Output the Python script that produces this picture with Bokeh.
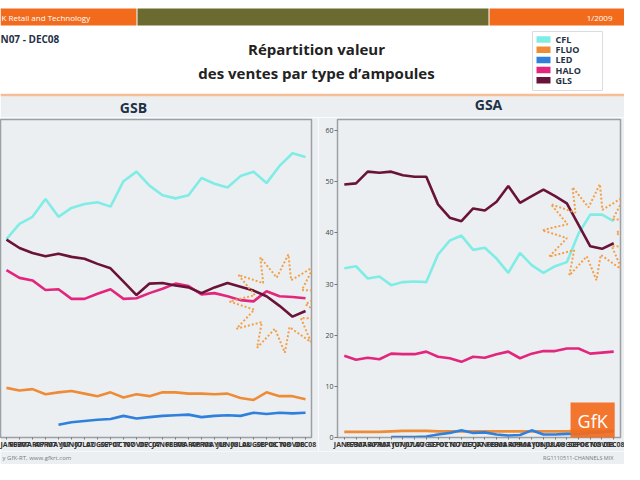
import numpy as np
from bokeh.plotting import figure
from bokeh.layouts import column, row
from bokeh.models import Range1d, FixedTicker, Label, ColumnDataSource
from bokeh.core.properties import value
from bokeh.embed import file_html
from bokeh.resources import INLINE

# ---------------- data ----------------
months = ["JAN07", "FEB07", "MAR07", "APR07", "MAY07", "JUN07", "JUL07", "AUG07",
          "SEP07", "OCT07", "NOV07", "DEC07", "JAN08", "FEB08", "MAR08", "APR08",
          "MAY08", "JUN08", "JUL08", "AUG08", "SEP08", "OCT08", "NOV08", "DEC08"]
series = ["CFL", "FLUO", "LED", "HALO", "GLS"]
colors = ["#7FEDE6", "#EE8B36", "#2F80DC", "#E2267E", "#6A1339"]

gsb_cfl = [31.2, 33.6, 34.7, 37.5, 34.7, 36.1, 36.7, 37.0, 36.3, 40.3, 41.8, 39.6,
           38.1, 37.6, 38.1, 40.8, 39.9, 39.3, 41.1, 41.8, 40.0, 42.7, 44.7, 44.1]
gsb_fluo = [7.8, 7.4, 7.6, 6.8, 7.1, 7.3, 6.9, 6.5, 7.1, 6.3, 6.8, 6.5,
            7.1, 7.1, 6.9, 6.9, 6.8, 6.9, 6.2, 5.9, 7.1, 6.5, 6.5, 6.0]
gsb_led = [None, None, None, None, 2.0, 2.4, 2.6, 2.8, 2.9, 3.4, 3.0, 3.2,
           3.4, 3.5, 3.6, 3.2, 3.4, 3.5, 3.4, 3.9, 3.7, 3.9, 3.8, 3.9]
gsb_halo = [26.3, 25.1, 24.7, 23.2, 23.3, 21.8, 21.8, 22.6, 23.3, 21.8, 21.9, 22.7,
            23.4, 24.2, 23.8, 22.5, 22.7, 22.2, 21.6, 21.4, 23.0, 22.2, 22.1, 21.9]
gsb_gls = [31.1, 29.8, 29.0, 28.5, 28.9, 28.4, 28.1, 27.3, 26.6, 24.5, 22.4, 24.2,
           24.3, 23.9, 23.6, 22.7, 23.6, 24.3, 23.7, 23.1, 22.2, 20.7, 19.0, 19.9]

gsa_cfl = [33.1, 33.5, 31.1, 31.5, 29.8, 30.4, 30.5, 30.4, 35.8, 38.5, 39.5, 36.7,
           37.1, 35.0, 32.2, 36.1, 33.7, 32.2, 33.5, 34.3, 39.9, 43.6, 43.6, 42.3]
gsa_fluo = [1.1, 1.1, 1.1, 1.1, 1.2, 1.3, 1.3, 1.3, 1.2, 1.2, 1.2, 1.2,
            1.2, 1.2, 1.2, 1.2, 1.2, 1.2, 1.2, 1.2, 1.3, 1.3, 1.3, 1.3]
gsa_led = [None, None, None, None, 0.1, 0.1, 0.1, 0.2, 0.6, 0.9, 1.4, 0.9,
           1.0, 0.6, 0.4, 0.5, 1.4, 0.6, 0.6, 0.7, 0.7, 0.9, 1.0, 1.3]
gsa_halo = [16.0, 15.2, 15.6, 15.3, 16.4, 16.3, 16.3, 16.8, 15.8, 15.5, 14.8, 15.8,
            15.6, 16.3, 16.8, 15.5, 16.4, 16.9, 16.9, 17.4, 17.4, 16.4, 16.6, 16.8]
gsa_gls = [49.5, 49.7, 52.0, 51.8, 52.0, 51.3, 51.0, 51.0, 45.6, 43.0, 42.3, 44.8,
           44.4, 46.1, 49.2, 45.9, 47.2, 48.5, 47.2, 45.8, 41.6, 37.4, 36.9, 38.0]

gsb_data = [gsb_cfl, gsb_fluo, gsb_led, gsb_halo, gsb_gls]
gsa_data = [gsa_cfl, gsa_fluo, gsa_led, gsa_halo, gsa_gls]

FONT = "Open Sans"
BG = "#ECEFF1"
DARK = "#1F3246"
STAR = "#F2A04A"
W = 624


def blank(width, height, xr, yr, bg):
    f = figure(width=width, height=height, x_range=Range1d(*xr), y_range=Range1d(*yr),
               output_backend="svg", toolbar_location=None, min_border=0,
               x_axis_location=None, y_axis_location=None)
    f.outline_line_color = None
    f.grid.visible = False
    f.background_fill_color = bg
    f.border_fill_color = bg
    return f


# ---------------- header ----------------
HH = 117
hdr = blank(W, HH, (0, W), (HH, 0), "white")
hdr.quad(left=[0, 137, 489], right=[136, 488, W], top=[8, 8, 8], bottom=[25, 25, 25],
         fill_color=["#F26B1D", "#6B6A30", "#F26B1D"], line_color=None)
hdr.quad(left=[0], right=[W], top=[95], bottom=[HH], fill_color=BG, line_color=None)
hdr.segment(x0=[0], x1=[W], y0=[94.5], y1=[94.5], line_color="#F5BE96", line_width=2.5)

hdr.text(x=[1], y=[17], text=["K Retail and Technology"], text_font=value(FONT),
         text_font_size="8px", text_color="white", text_baseline="middle")
hdr.text(x=[612], y=[17], text=["1/2009"], text_font=value(FONT),
         text_font_size="8px", text_color="white", text_baseline="middle", text_align="right")
hdr.text(x=[0], y=[38], text=["N07 - DEC08"], text_font=value(FONT), text_font_style="bold",
         text_font_size="10px", text_color=DARK, text_baseline="middle")
hdr.text(x=[316, 316], y=[48, 72],
         text=["Répartition valeur", "des ventes par type d\u2019ampoules"],
         text_font=value(FONT), text_font_style="bold", text_font_size="15px",
         text_color="#222222", text_baseline="middle", text_align="center")
hdr.text(x=[133, 488], y=[107, 104], text=["GSB", "GSA"], text_font=value(FONT),
         text_font_style="bold", text_font_size="14px", text_color=DARK,
         text_baseline="middle", text_align="center")

# legend box
hdr.quad(left=[532], right=[602], top=[31], bottom=[90], fill_color="white",
         line_color="#DADDE0", line_width=1)
leg_y = [39 + 10.2 * k for k in range(len(series))]
hdr.rect(x=[543] * len(series), y=leg_y, width=14, height=6.5,
         fill_color=colors, line_color=None)
hdr.text(x=[555] * len(series), y=leg_y, text=series, text_font=value(FONT),
         text_font_style="bold", text_font_size="9px", text_color=DARK,
         text_baseline="middle")


def star_xy(cx, cy, r_out, r_in, sx, sy, n=11, rot=0.25):
    k = np.arange(2 * n + 1)
    ang = k * np.pi / n + rot
    r = np.where(k % 2 == 0, r_out, r_in)
    return cx + r * np.cos(ang) / sx, cy + r * np.sin(ang) / sy


PH = 334
BOT = 12


def panel(width, xr, yr, left, right, top, show_y, data):
    p = figure(width=width, height=PH, x_range=Range1d(*xr), y_range=Range1d(*yr),
               output_backend="svg", toolbar_location=None,
               min_border_left=left, min_border_right=right, min_border_top=top,
               min_border_bottom=BOT, y_axis_location="left" if show_y else None)
    p.background_fill_color = BG
    p.border_fill_color = BG
    p.outline_line_color = "#9C9FA3"
    p.outline_line_width = 1.5
    p.grid.visible = False
    xs = list(range(len(months)))
    for name, vals, col in zip(series, data, colors):
        arr = np.array([np.nan if v is None else v for v in vals], dtype=float)
        src = ColumnDataSource(dict(x=xs, y=arr))
        p.line("x", "y", source=src, line_color=col, line_width=2.6, name=name)
    ax = p.xaxis[0]
    ax.ticker = FixedTicker(ticks=xs)
    ax.major_label_overrides = {i: m for i, m in enumerate(months)}
    ax.major_label_text_font = FONT
    ax.major_label_text_font_size = "7px"
    ax.major_label_text_font_style = "bold"
    ax.major_label_text_color = "#333333"
    ax.major_label_standoff = 0
    ax.major_tick_out = 2
    ax.major_tick_in = 0
    ax.major_tick_line_color = "#777777"
    ax.minor_tick_line_color = None
    ax.axis_line_color = "#9C9FA3"
    if show_y:
        ay = p.yaxis[0]
        ay.ticker = FixedTicker(ticks=[0, 10, 20, 30, 40, 50, 60])
        ay.major_label_text_font = FONT
        ay.major_label_text_font_size = "7px"
        ay.major_label_text_color = "#444444"
        ay.major_label_standoff = 1
        ay.major_tick_out = 3
        ay.major_tick_in = 0
        ay.major_tick_line_color = "#777777"
        ay.minor_tick_line_color = None
        ay.axis_line_color = None
    return p


# ---------------- GSB ----------------
GSB_W, GSB_TOP = 318, 2
gsb = panel(GSB_W, (-0.46, 23.46), (0, 50), 0, 7, GSB_TOP, False, gsb_data)
sxp = 311 / (gsb.x_range.end - gsb.x_range.start)
syp = (PH - GSB_TOP - BOT) / (gsb.y_range.end - gsb.y_range.start)
stx, sty = star_xy(21.0, 21.1, 50, 26, sxp, syp)
gsb.line(stx, sty, line_color=STAR, line_width=2, line_dash="2 2")

# ---------------- GSA ----------------
GSA_W, GSA_TOP = W - GSB_W, 1
gsa = panel(GSA_W, (-0.58, 23.58), (0, 62.2), 19, 4, GSA_TOP, True, gsa_data)
sxp2 = 283 / (gsa.x_range.end - gsa.x_range.start)
syp2 = (PH - GSA_TOP - BOT) / (gsa.y_range.end - gsa.y_range.start)
stx2, sty2 = star_xy(21.08, 40.2, 49, 25, sxp2, syp2)
gsa.line(stx2, sty2, line_color=STAR, line_width=2, line_dash="2 2")
gsa.add_layout(Label(x=21.2, y=2.66, text="GfK", text_font=FONT, text_font_size="18px",
                     text_color="white", text_align="center", text_baseline="middle",
                     background_fill_color="#F26B1D", background_fill_alpha=0.92,
                     padding=dict(left=7, right=7, top=7, bottom=12)))

# ---------------- footer ----------------
FTY = HH + PH
FTH = 464 - FTY
ftr = blank(W, FTH, (0, W), (464, FTY), BG)
ftr.text(x=[2], y=[FTY + FTH / 2], text=["y GfK-RT, www.gfkrt.com"], text_font=value(FONT),
         text_font_size="6px", text_color="#7A7A7A", text_baseline="middle")
ftr.text(x=[613], y=[FTY + FTH / 2], text=["RG1110511-CHANNELS MIX"], text_font=value(FONT),
         text_font_size="5.5px", text_color="#7A7A7A", text_baseline="middle",
         text_align="right")

layout = column(hdr, row(gsb, gsa, spacing=0), ftr, spacing=0)
open("out.html", "w").write(file_html(layout, INLINE))
